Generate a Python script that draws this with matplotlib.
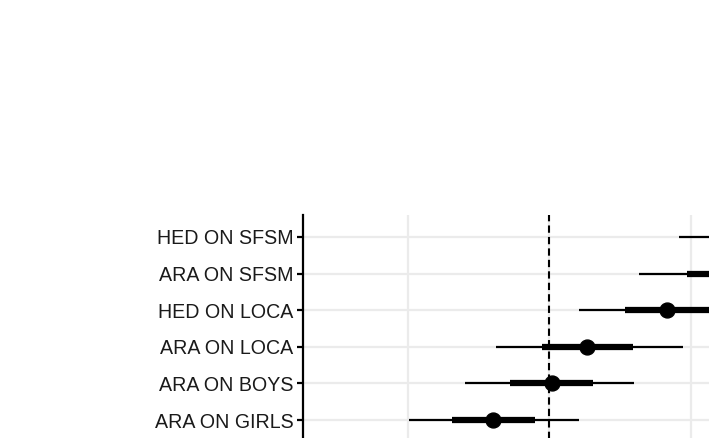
import matplotlib
matplotlib.use("Agg")
import matplotlib.pyplot as plt

labels = ["ARA ON GIRLS", "ARA ON BOYS", "ARA ON LOCA", "HED ON LOCA", "ARA ON SFSM", "HED ON SFSM"]
estimate = [-0.396, 0.021, 0.269, 0.834, 1.28, 1.54]
inner_lo = [-0.686, -0.276, -0.049, 0.537, 0.975, 1.24]
inner_hi = [-0.099, 0.311, 0.594, 1.13, 1.58, 1.84]
outer_lo = [-0.986, -0.594, -0.375, 0.212, 0.636, 0.919]
outer_hi = [0.212, 0.601, 0.947, 1.46, 1.92, 2.16]
x_breaks = [-1, 0, 1, 2, 3]

W, H = 709, 438
fig = plt.figure(figsize=(W / 100, H / 100), dpi=100)
left_px, right_px, top_px, bottom_px = 303, 1100, 215, 442
ax = fig.add_axes([left_px / W, 1 - bottom_px / H, (right_px - left_px) / W, (bottom_px - top_px) / H])

zero_px, unit_px = 549, 141.5
ax.set_xlim((left_px - zero_px) / unit_px, (right_px - zero_px) / unit_px)
ax.set_ylim(-0.6, len(labels) - 1 + 0.6)

ys = list(range(len(labels)))
ax.axvline(0, color="black", lw=1.5, ls=(0, (3.5, 2)), zorder=2)
ax.hlines(ys, outer_lo, outer_hi, color="black", lw=1.6, zorder=3)
ax.hlines(ys, inner_lo, inner_hi, color="black", lw=4.5, zorder=4)
ax.scatter(estimate, ys, s=115, color="black", zorder=5)

ax.set_yticks(ys)
ax.set_yticklabels(labels, fontsize=14.1, family="Liberation Sans", color="#1a1a1a")
ax.set_xticks(x_breaks)
ax.set_xticklabels([])
ax.grid(True, color="#ebebeb", lw=1.6, zorder=0)
ax.set_axisbelow(True)
for s in ["top", "right", "bottom"]:
    ax.spines[s].set_visible(False)
ax.spines["left"].set_linewidth(1.6)
ax.tick_params(axis="y", length=4, width=1.6, pad=3)
ax.tick_params(axis="x", length=0)

fig.savefig("out.png", dpi=100)
